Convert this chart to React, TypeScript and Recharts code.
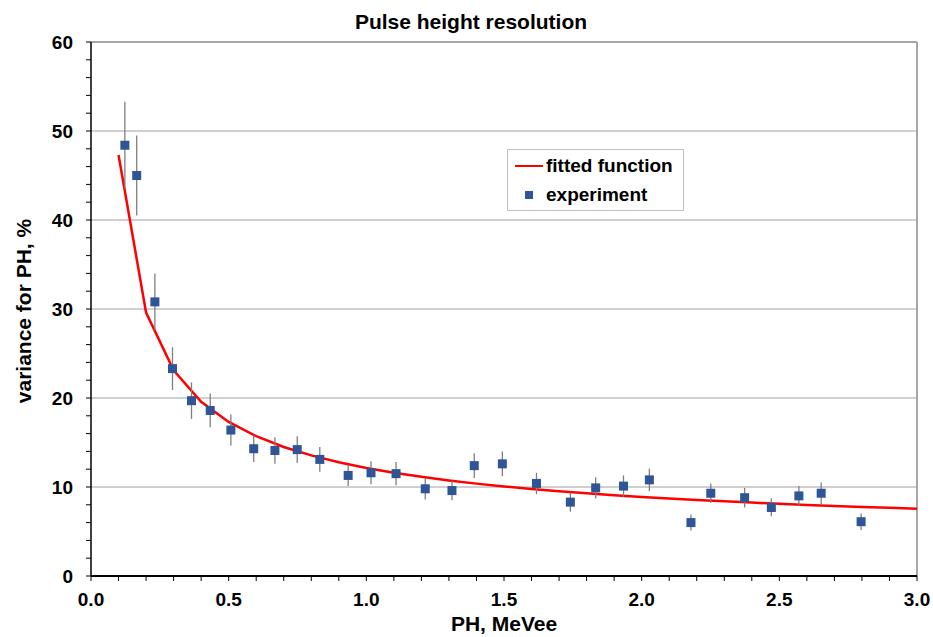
import React from 'react';
import { ComposedChart, Line, Scatter, ErrorBar, XAxis, YAxis, CartesianGrid, ReferenceLine, Legend, Label } from 'recharts';

// experiment points
const expX = [0.123, 0.166, 0.232, 0.296, 0.365, 0.433, 0.508, 0.591, 0.668, 0.749, 0.831, 0.934, 1.017, 1.108, 1.214, 1.311, 1.392, 1.494, 1.618, 1.741, 1.833, 1.934, 2.028, 2.179, 2.251, 2.374, 2.471, 2.571, 2.652, 2.797];
const expY = [48.4, 45.0, 30.8, 23.3, 19.7, 18.6, 16.4, 14.3, 14.1, 14.2, 13.1, 11.3, 11.6, 11.5, 9.8, 9.6, 12.4, 12.6, 10.4, 8.3, 9.9, 10.1, 10.8, 6.0, 9.3, 8.8, 7.7, 9.0, 9.3, 6.1];
const expErr = [4.9, 4.5, 3.2, 2.4, 2.05, 1.9, 1.74, 1.5, 1.5, 1.5, 1.4, 1.2, 1.3, 1.3, 1.2, 1.1, 1.4, 1.4, 1.2, 1.07, 1.2, 1.2, 1.27, 0.9, 1.1, 1.1, 1.0, 1.1, 1.2, 0.93];

// fitted curve, one value every 0.1 MeVee
const fitX = [0.1, 0.2, 0.3, 0.4, 0.5, 0.6, 0.7, 0.8, 0.9, 1.0, 1.1, 1.2, 1.3, 1.4, 1.5, 1.6, 1.7, 1.8, 1.9, 2.0, 2.1, 2.2, 2.3, 2.4, 2.5, 2.6, 2.7, 2.8, 2.9, 3.0];
const fitY = [47.3, 29.6, 23.1, 19.58, 17.31, 15.71, 14.5, 13.55, 12.78, 12.14, 11.61, 11.14, 10.73, 10.38, 10.06, 9.78, 9.52, 9.29, 9.08, 8.88, 8.71, 8.54, 8.39, 8.25, 8.11, 7.99, 7.87, 7.76, 7.66, 7.56];

const xTicks = [0, 0.1, 0.2, 0.3, 0.4, 0.5, 0.6, 0.7, 0.8, 0.9, 1.0, 1.1, 1.2, 1.3, 1.4, 1.5, 1.6, 1.7, 1.8, 1.9, 2.0, 2.1, 2.2, 2.3, 2.4, 2.5, 2.6, 2.7, 2.8, 2.9, 3.0];
const yTicks = [0, 2, 4, 6, 8, 10, 12, 14, 16, 18, 20, 22, 24, 26, 28, 30, 32, 34, 36, 38, 40, 42, 44, 46, 48, 50, 52, 54, 56, 58, 60];
const gridValues = [10, 20, 30, 40, 50];

const FONT = '"Liberation Sans", Arial, sans-serif';
const BLUE = '#2f5597';
const RED = '#ff0000';

const fitData = fitX.map((x, i) => ({ x, y: fitY[i] }));
const expData = expX.map((x, i) => ({ x, y: expY[i], err: expErr[i] }));

const Square = (props: any) => {
    const { cx, cy } = props;
    return <rect x={cx - 4.5} y={cy - 4.5} width={9} height={9} fill={BLUE} />;
};

const ChartLegend = () => (
    <div style={{ width: 177, height: 62, border: '1px solid #c0c0c0', background: '#fff', fontFamily: FONT, fontWeight: 'bold', fontSize: 19, color: '#000', boxSizing: 'border-box' }}>
        <div style={{ display: 'flex', alignItems: 'center', height: 29, marginTop: 1 }}>
            <div style={{ width: 28, height: 2, background: RED, marginLeft: 7, marginRight: 3 }} />
            <span>fitted function</span>
        </div>
        <div style={{ display: 'flex', alignItems: 'center', height: 29 }}>
            <div style={{ width: 8, height: 8, background: BLUE, marginLeft: 17, marginRight: 13 }} />
            <span>experiment</span>
        </div>
    </div>
);

const YTitle = (props: any) => {
    const { viewBox } = props;
    const cy = viewBox.y + viewBox.height / 2 + 2;
    return (
        <text x={23} y={cy} transform={`rotate(-90 23 ${cy})`} textAnchor="middle" dominantBaseline="central"
            style={{ fontFamily: FONT, fontWeight: 'bold', fontSize: 21, fill: '#000' }}>
            variance for PH, %
        </text>
    );
};

const App: React.FC = () => {
    const tickStyle = { fontFamily: FONT, fontWeight: 'bold' as const, fontSize: 19, fill: '#000' };
    return (
        <div style={{ position: 'absolute', left: 0, top: 0, width: 933, height: 637, background: '#fff' }}>
            <div style={{ position: 'absolute', left: 0, top: 10, width: 942, textAlign: 'center', fontFamily: FONT, fontWeight: 'bold', fontSize: 21 }}>
                Pulse height resolution
            </div>
            <ComposedChart width={933} height={637} margin={{ top: 42, right: 16, bottom: 0, left: 0 }}>
                <CartesianGrid horizontal vertical={false} horizontalValues={gridValues} stroke="#a0a0a0" />
                <ReferenceLine y={60} stroke="#a6a6a6" strokeWidth={2} />
                <ReferenceLine x={3} stroke="#a6a6a6" strokeWidth={2} />
                <XAxis type="number" dataKey="x" domain={[0, 3]} ticks={xTicks} interval={0}
                    allowDecimals height={61} tickSize={5} tickMargin={12}
                    stroke="#000" axisLine={{ stroke: '#000', strokeWidth: 2 }} tickLine={{ stroke: '#000' }}
                    tick={tickStyle}
                    tickFormatter={(v: number) => (Math.round(v * 10) % 5 === 0 ? v.toFixed(1) : '')}>
                    <Label value="PH, MeVee" position="insideBottom" offset={6}
                        style={{ fontFamily: FONT, fontWeight: 'bold', fontSize: 21, fill: '#000' }} />
                </XAxis>
                <YAxis type="number" domain={[0, 60]} ticks={yTicks} interval={0} width={91}
                    tickSize={5} tickMargin={13}
                    axisLine={{ stroke: '#000', strokeWidth: 1.5 }} tickLine={{ stroke: '#000' }}
                    tick={tickStyle}
                    tickFormatter={(v: number) => (v % 10 === 0 ? String(v) : '')}>
                    <Label content={<YTitle />} />
                </YAxis>
                <Legend layout="vertical" align="center" verticalAlign="middle"
                    wrapperStyle={{ left: 507, top: 149, width: 177 }} content={<ChartLegend />} />
                <Line data={fitData} dataKey="y" type="linear" stroke={RED} strokeWidth={2.5}
                    dot={false} activeDot={false} isAnimationActive={false} legendType="line" name="fitted function" />
                <Scatter data={expData} dataKey="y" shape={<Square />} isAnimationActive={false} name="experiment">
                    <ErrorBar dataKey="err" direction="y" width={0} stroke="#7f7f7f" strokeWidth={1.3} isAnimationActive={false} />
                </Scatter>
            </ComposedChart>
        </div>
    );
};

export default App;
